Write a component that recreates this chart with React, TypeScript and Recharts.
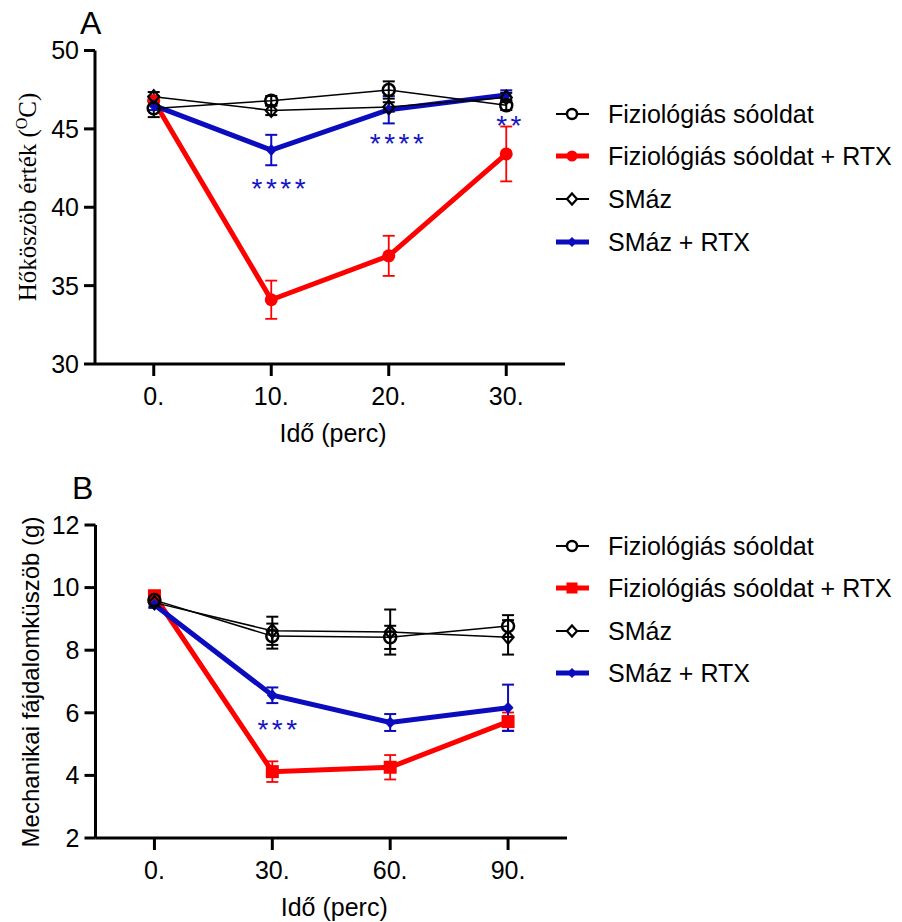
import React from 'react';
import { LineChart, Line, XAxis, YAxis, ErrorBar, ReferenceDot } from 'recharts';

const FONT = '"Liberation Sans", Arial, sans-serif';
const SERIF = '"Liberation Serif", "Times New Roman", serif';
const RED = '#ff0000';
const BLUE = '#0c0cbf';
const STAR = '#1414c4';

const seriesNames = ['Fiziológiás sóoldat', 'Fiziológiás sóoldat + RTX', 'SMáz', 'SMáz + RTX'];

// Panel A - heat threshold
const timeA = [0, 10, 20, 30];
const fizA = [46.3, 46.8, 47.48, 46.5];
const fizErrA = [0.55, 0.3, 0.55, 0.3];
const fizRtxA = [46.8, 34.1, 36.9, 43.4];
const fizRtxErrA = [0.3, 1.22, 1.28, 1.75];
const smazA = [47.05, 46.18, 46.4, 47.0];
const smazErrA = [0.3, 0.3, 0.3, 0.3];
const smazRtxA = [46.5, 43.65, 46.22, 47.16];
const smazRtxErrA = [0.3, 0.97, 0.87, 0.3];
const starTextA = ['****', '****', '**'];
const starXA = [10.6, 20.67, 30.2];
const starYA = [41.63, 44.5, 45.6];
const yTicksA = [30, 35, 40, 45, 50];

// Panel B - mechanical pain threshold
const timeB = [0, 30, 60, 90];
const fizB = [9.6, 8.45, 8.41, 8.77];
const fizErrB = [0.12, 0.4, 0.37, 0.35];
const fizRtxB = [9.74, 4.12, 4.26, 5.72];
const fizRtxErrB = [0.12, 0.33, 0.39, 0.29];
const smazB = [9.52, 8.62, 8.58, 8.41];
const smazErrB = [0.12, 0.45, 0.72, 0.55];
const smazRtxB = [9.45, 6.56, 5.69, 6.16];
const smazRtxErrB = [0.1, 0.25, 0.27, 0.74];
const starTextB = ['***'];
const starXB = [31.2];
const starYB = [5.67];
const yTicksB = [2, 4, 6, 8, 10, 12];

const buildRows = (t: number[], a: number[], ae: number[], b: number[], be: number[], c: number[], ce: number[], d: number[], de: number[]) =>
  t.map((x, i) => ({ t: x, fiz: a[i], fizE: ae[i], fizRtx: b[i], fizRtxE: be[i], smaz: c[i], smazE: ce[i], smazRtx: d[i], smazRtxE: de[i] }));

const dataA = buildRows(timeA, fizA, fizErrA, fizRtxA, fizRtxErrA, smazA, smazErrA, smazRtxA, smazRtxErrA);
const dataB = buildRows(timeB, fizB, fizErrB, fizRtxB, fizRtxErrB, smazB, smazErrB, smazRtxB, smazRtxErrB);

// markers
const openCircle = (p: any) => (
  <circle key={`oc-${p.index}`} cx={p.cx} cy={p.cy} r={6} fill="none" stroke="#000" strokeWidth={2.5} />
);
const openDiamond = (p: any) => (
  <polygon key={`od-${p.index}`} points={`${p.cx},${p.cy - 6.5} ${p.cx + 5.5},${p.cy} ${p.cx},${p.cy + 6.5} ${p.cx - 5.5},${p.cy}`} fill="none" stroke="#000" strokeWidth={2.2} />
);
const redCircle = (p: any) => <circle key={`rc-${p.index}`} cx={p.cx} cy={p.cy} r={6.5} fill={RED} />;
const redSquare = (p: any) => <rect key={`rs-${p.index}`} x={p.cx - 6.5} y={p.cy - 6.5} width={13} height={13} fill={RED} />;
const blueDiamond = (p: any) => (
  <polygon key={`bd-${p.index}`} points={`${p.cx},${p.cy - 6} ${p.cx + 5.5},${p.cy} ${p.cx},${p.cy + 6} ${p.cx - 5.5},${p.cy}`} fill={BLUE} />
);

const starLabel = (text: string) => (p: any) => {
  const vb = p.viewBox || {};
  const cx = vb.x + (vb.width || 0) / 2;
  const cy = vb.y + (vb.height || 0) / 2;
  return (
    <text x={cx + 2} y={cy + 16} textAnchor="middle" fill={STAR} fontSize={28} letterSpacing={3.5} fontFamily={FONT}>
      {text}
    </text>
  );
};

const axisStyle = { stroke: '#000', strokeWidth: 3 };
const tickStyle = { fill: '#000', fontSize: 25, fontFamily: FONT };

const xTitle = (p: any) => {
  const vb = p.viewBox;
  return (
    <text x={vb.x + vb.width / 2 + 3} y={vb.y + 78} textAnchor="middle" fontSize={25} fontFamily={FONT} fill="#000">
      Idő (perc)
    </text>
  );
};

const LegendMarker: React.FC<{ kind: number; squares?: boolean }> = ({ kind, squares }) => {
  const color = kind === 1 ? RED : kind === 3 ? BLUE : '#000';
  const thick = kind === 1 || kind === 3;
  return (
    <svg width={36} height={20} style={{ position: 'absolute', left: 0, top: -10 }}>
      <line x1={1} y1={10} x2={34} y2={10} stroke={color} strokeWidth={thick ? 5 : 2} />
      {kind === 0 && <circle cx={17} cy={10} r={5} fill="#fff" stroke="#000" strokeWidth={2.5} />}
      {kind === 1 && !squares && <circle cx={17} cy={10} r={5.5} fill={RED} />}
      {kind === 1 && squares && <rect x={11.5} y={4.5} width={11} height={11} fill={RED} />}
      {kind === 2 && <polygon points="17,4.5 22,10 17,15.5 12,10" fill="#fff" stroke="#000" strokeWidth={2.2} />}
      {kind === 3 && <polygon points="17,5 22,10 17,15 12,10" fill={BLUE} />}
    </svg>
  );
};

const LegendBlock: React.FC<{ top: number[]; squares?: boolean }> = ({ top, squares }) => (
  <>
    {seriesNames.map((name, i) => (
      <div key={name} style={{ position: 'absolute', left: 555, top: top[i], height: 0 }}>
        <LegendMarker kind={i} squares={squares} />
        <div style={{ position: 'absolute', left: 53, top: -15, fontFamily: FONT, fontSize: 25, lineHeight: '30px', whiteSpace: 'nowrap', color: '#000' }}>
          {name}
        </div>
      </div>
    ))}
  </>
);

const App: React.FC = () => {
  return (
    <div style={{ position: 'absolute', left: 0, top: 0, width: 902, height: 922, background: '#fff', overflow: 'hidden' }}>
      {/* Panel A */}
      <div style={{ position: 'absolute', left: 0, top: 0 }}>
        <LineChart width={902} height={460} data={dataA} margin={{ top: 50.5, right: 337, bottom: 26, left: 35 }}>
          <XAxis
            dataKey="t"
            type="number"
            domain={[-5, 35]}
            ticks={timeA}
            tickFormatter={(v: number) => `${v}.`}
            axisLine={axisStyle}
            tickLine={axisStyle}
            tickSize={12}
            tickMargin={11}
            tick={tickStyle}
            height={70}
            interval={0}
            label={xTitle}
          />
          <YAxis
            type="number"
            domain={[30, 50]}
            ticks={yTicksA}
            axisLine={axisStyle}
            tickLine={axisStyle}
            tickSize={11}
            tickMargin={5}
            tick={tickStyle}
            width={60}
            interval={0}
          />
          <Line dataKey="fizRtx" stroke={RED} strokeWidth={5} dot={redCircle} isAnimationActive={false}>
            <ErrorBar dataKey="fizRtxE" width={6} stroke={RED} strokeWidth={1.8} />
          </Line>
          <Line dataKey="smazRtx" stroke={BLUE} strokeWidth={5} dot={blueDiamond} isAnimationActive={false}>
            <ErrorBar dataKey="smazRtxE" width={6} stroke={BLUE} strokeWidth={2} />
          </Line>
          <Line dataKey="smaz" stroke="#000" strokeWidth={1.5} dot={openDiamond} isAnimationActive={false}>
            <ErrorBar dataKey="smazE" width={6} stroke="#000" strokeWidth={2} />
          </Line>
          <Line dataKey="fiz" stroke="#000" strokeWidth={1.5} dot={openCircle} isAnimationActive={false}>
            <ErrorBar dataKey="fizE" width={6} stroke="#000" strokeWidth={2} />
          </Line>
          {starTextA.map((s, i) => (
            <ReferenceDot key={`sa-${i}`} x={starXA[i]} y={starYA[i]} r={0} fill="none" stroke="none" label={starLabel(s)} />
          ))}
        </LineChart>
        <svg width={60} height={420} style={{ position: 'absolute', left: 0, top: 0 }}>
          <text transform="translate(36,197) rotate(-90)" textAnchor="middle" fontFamily={SERIF} fontSize={25} fill="#000">
            Hőköszöb érték (<tspan fontSize={16} dy={-9}>O</tspan><tspan dy={9}>C)</tspan>
          </text>
        </svg>
        <div style={{ position: 'absolute', left: 80, top: 3, fontFamily: FONT, fontSize: 32, lineHeight: '40px' }}>A</div>
      </div>
      <LegendBlock top={[114, 156, 199, 242]} />

      {/* Panel B */}
      <div style={{ position: 'absolute', left: 0, top: 460 }}>
        <LineChart width={902} height={462} data={dataB} margin={{ top: 65, right: 335, bottom: 14, left: 35.5 }}>
          <XAxis
            dataKey="t"
            type="number"
            domain={[-15, 105]}
            ticks={timeB}
            tickFormatter={(v: number) => `${v}.`}
            axisLine={axisStyle}
            tickLine={axisStyle}
            tickSize={12}
            tickMargin={11}
            tick={tickStyle}
            height={70}
            interval={0}
            label={xTitle}
          />
          <YAxis
            type="number"
            domain={[2, 12]}
            ticks={yTicksB}
            axisLine={axisStyle}
            tickLine={axisStyle}
            tickSize={11}
            tickMargin={5}
            tick={tickStyle}
            width={60}
            interval={0}
          />
          <Line dataKey="fizRtx" stroke={RED} strokeWidth={5} dot={redSquare} isAnimationActive={false}>
            <ErrorBar dataKey="fizRtxE" width={6} stroke={RED} strokeWidth={1.8} />
          </Line>
          <Line dataKey="smazRtx" stroke={BLUE} strokeWidth={5} dot={blueDiamond} isAnimationActive={false}>
            <ErrorBar dataKey="smazRtxE" width={6} stroke={BLUE} strokeWidth={2} />
          </Line>
          <Line dataKey="smaz" stroke="#000" strokeWidth={1.5} dot={openDiamond} isAnimationActive={false}>
            <ErrorBar dataKey="smazE" width={6} stroke="#000" strokeWidth={2} />
          </Line>
          <Line dataKey="fiz" stroke="#000" strokeWidth={1.5} dot={openCircle} isAnimationActive={false}>
            <ErrorBar dataKey="fizE" width={6} stroke="#000" strokeWidth={2} />
          </Line>
          {starTextB.map((s, i) => (
            <ReferenceDot key={`sb-${i}`} x={starXB[i]} y={starYB[i]} r={0} fill="none" stroke="none" label={starLabel(s)} />
          ))}
        </LineChart>
        <svg width={60} height={462} style={{ position: 'absolute', left: 0, top: 0 }}>
          <text transform="translate(39,222) rotate(-90)" textAnchor="middle" fontFamily={FONT} fontSize={24} fill="#000">
            Mechanikai fájdalomküszöb (g)
          </text>
        </svg>
        <div style={{ position: 'absolute', left: 72, top: 8, fontFamily: FONT, fontSize: 32, lineHeight: '40px' }}>B</div>
      </div>
      <LegendBlock top={[546, 588, 631, 673]} squares />
    </div>
  );
};

export default App;
